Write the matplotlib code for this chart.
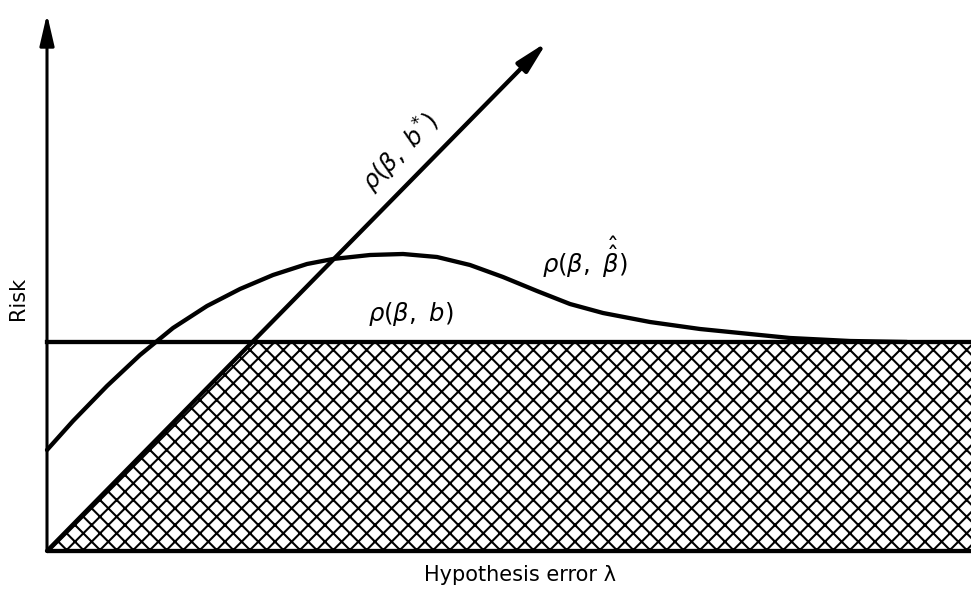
import numpy as np
import matplotlib
matplotlib.use('Agg')
import matplotlib.pyplot as plt

# Risk curves against hypothesis error (lambda)
lam_max = 9.3
risk_top = 5.37

# rho(beta, b): constant risk
b_level = 2.09

# rho(beta, b*): straight line, ends in an arrow
bstar_lambda = [0.0, 5.0]
bstar_risk = [0.0, 5.09]

# rho(beta, beta-hat-hat): hump curve
pt_lambda = [0.00, 0.26, 0.60, 0.93, 1.26, 1.60, 1.93, 2.26, 2.60, 2.86, 3.23, 3.56,
             3.90, 4.23, 4.56, 4.90, 5.23, 5.56, 6.03, 6.53, 7.03, 7.43, 8.03, 8.60]
pt_risk = [1.01, 1.30, 1.65, 1.96, 2.23, 2.45, 2.62, 2.76, 2.87, 2.92, 2.96, 2.97,
           2.94, 2.86, 2.74, 2.60, 2.47, 2.38, 2.29, 2.22, 2.17, 2.13, 2.10, 2.09]

plt.rcParams['hatch.linewidth'] = 1.5
plt.rcParams['mathtext.fontset'] = 'dejavusans'

fig = plt.figure(figsize=(9.71, 5.89), dpi=100)
ax = fig.add_axes([0, 0, 1, 1])
ax.set_xlim(-0.47, 9.24)
ax.set_ylim(-0.38, 5.51)
ax.axis('off')

# hatched region under min(b*, b)
slope = (bstar_risk[1] - bstar_risk[0]) / (bstar_lambda[1] - bstar_lambda[0])
knee = b_level / slope
fill_x = np.array([0.0, knee, lam_max])
fill_y = np.minimum(fill_x * slope, b_level)
ax.fill_between(fill_x, 0, fill_y, facecolor='white', edgecolor='black',
                hatch='xx', linewidth=0, zorder=1)

lw = 3.1
# axes
ax.plot([0, lam_max], [0, 0], color='black', lw=lw, solid_capstyle='butt', zorder=3)
ax.annotate('', xy=(0, risk_top), xytext=(0, 0),
            arrowprops=dict(arrowstyle='-|>,head_length=0.95,head_width=0.22',
                            mutation_scale=20, color='black', lw=2.2,
                            shrinkA=0, shrinkB=0), zorder=3)

# rho(beta, b)
ax.plot([0, lam_max], [b_level, b_level], color='black', lw=lw, zorder=3)

# rho(beta, b*)
ax.annotate('', xy=(bstar_lambda[1], bstar_risk[1]), xytext=(bstar_lambda[0], bstar_risk[0]),
            arrowprops=dict(arrowstyle='-|>,head_length=0.95,head_width=0.22',
                            mutation_scale=20, color='black', lw=lw,
                            shrinkA=0, shrinkB=0), zorder=3)

# rho(beta, beta-hat-hat)
ax.plot(pt_lambda, pt_risk, color='black', lw=lw, solid_capstyle='round',
        solid_joinstyle='round', zorder=3)

# labels
angle = np.degrees(np.arctan(slope))
ax.text(3.53, 3.99, r'$\rho(\beta,\ b^{*})$', fontsize=17.5, rotation=angle,
        rotation_mode='anchor', ha='center', va='center')
ax.text(3.64, 2.37, r'$\rho(\beta,\ b)$', fontsize=17.5, ha='center', va='center')
ax.text(5.38, 2.78, r'$\rho(\beta,\ \hat{\hat{\beta}})$', fontsize=17.5, ha='center', va='baseline')

ax.text(-0.29, 2.53, 'Risk', fontsize=15, rotation=90, ha='center', va='center')
ax.text(4.73, -0.24, 'Hypothesis error λ', fontsize=15, ha='center', va='center')

fig.savefig('out.png', dpi=100)
